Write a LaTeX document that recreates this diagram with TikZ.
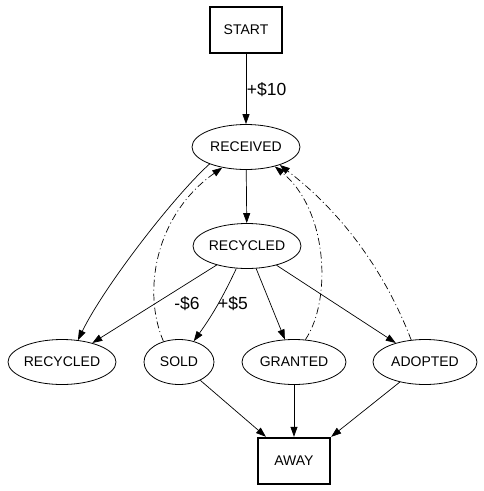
\documentclass[tikz,border=0pt]{standalone}
\usepackage{fontspec}
\setmainfont{Liberation Sans}
\usetikzlibrary{arrows.meta,shapes.geometric}
\begin{document}
\begin{tikzpicture}[x=1pt,y=-1pt,
  state/.style={draw,ellipse,line width=0.8pt,minimum width=#1,minimum height=45pt,inner sep=0pt,font=\fontsize{14}{16}\selectfont},
  termbox/.style={draw,rectangle,line width=2.4pt,minimum width=72pt,minimum height=46pt,inner sep=0pt,font=\fontsize{14}{16}\selectfont},
  edge/.style={line width=0.7pt,-{Triangle[length=10pt,width=7pt]}},
  back/.style={edge,dash pattern=on 7pt off 3pt on 1pt off 3pt},
  elabel/.style={inner sep=0pt,font=\fontsize{17.5}{20}\selectfont}]
\useasboundingbox (0,0) rectangle (483,491);
\node[termbox] (start) at (246,30) {START};
\node[state=108pt] (rec) at (246,147) {RECEIVED};
\node[state=108pt] (rcm) at (247,246) {RECYCLED};
\node[state=108pt] (rl) at (62,362) {RECYCLED};
\node[state=70pt] (sold) at (179,362) {SOLD};
\node[state=104pt] (gran) at (294,362) {GRANTED};
\node[state=104pt] (adop) at (425,362) {ADOPTED};
\node[termbox] (away) at (294,461) {AWAY};

\draw[edge] (start) -- node[right,elabel,inner sep=0.5pt] (l10) {+\$10} (rec);
\draw[edge] (rec) -- (rcm);
\draw[edge] (rec.205) .. controls (175,195) and (105,285) .. (rl.54);
\draw[edge] (rcm) -- (rl);
\draw[edge] (rcm) to[bend left=5] (sold);
\draw[edge] (rcm) -- (gran);
\draw[edge] (rcm) -- (adop);
\node[elabel] (l6) at (187,304) {-\$6};
\node[elabel] (l5) at (233,304) {+\$5};
\draw[back] (sold.127) .. controls (142,292) and (155,215) .. (rec.221);
\draw[back] (gran.63) .. controls (332,300) and (328,210) .. (rec.326);
\draw[back] (adop.122) .. controls (384,269) and (340,211) .. (rec.332);
\draw[edge] (sold) -- (away);
\draw[edge] (gran) -- (away);
\draw[edge] (adop) -- (away.north east);
\end{tikzpicture}
\end{document}
